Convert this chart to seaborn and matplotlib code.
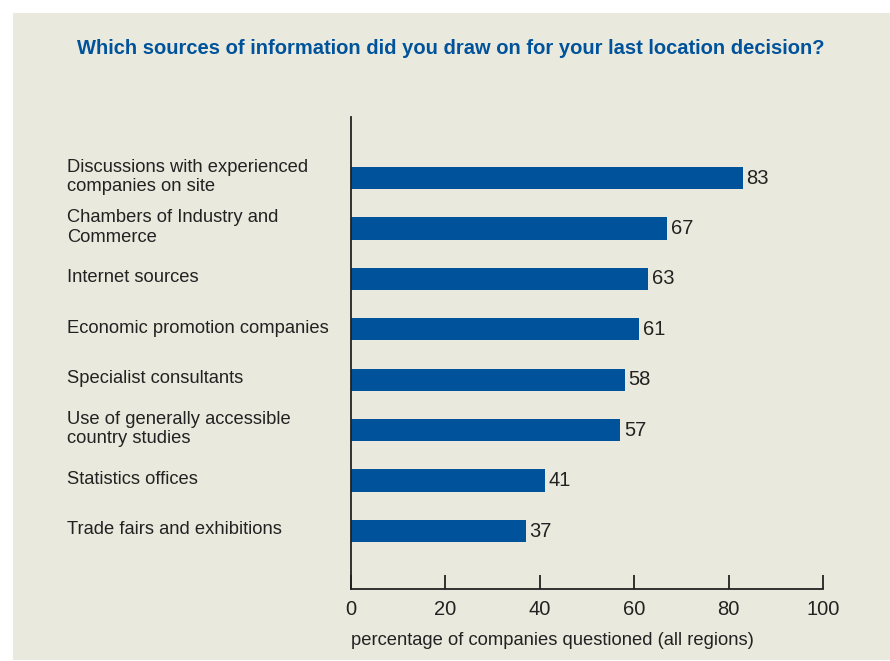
import matplotlib
matplotlib.use("Agg")
import matplotlib.pyplot as plt
import matplotlib.transforms as mtrans
from matplotlib.patches import Rectangle
import seaborn as sns
import pandas as pd

categories = [
    "Discussions with experienced\ncompanies on site",
    "Chambers of Industry and\nCommerce",
    "Internet sources",
    "Economic promotion companies",
    "Specialist consultants",
    "Use of generally accessible\ncountry studies",
    "Statistics offices",
    "Trade fairs and exhibitions",
]
values = [83, 67, 63, 61, 58, 57, 41, 37]
x_ticks = [0, 20, 40, 60, 80, 100]

title = "Which sources of information did you draw on for your last location decision?"
x_label = "percentage of companies questioned (all regions)"

BLUE = "#00529b"
PANEL = "#e9eadd"
TEXT = "#222222"

sns.set_theme(style="white")
plt.rcParams["font.family"] = ["Liberation Sans", "DejaVu Sans"]

df = pd.DataFrame({"source": categories, "share": values})

W, H = 890, 661
fig = plt.figure(figsize=(W / 100, H / 100), dpi=100, facecolor="white")

# light panel behind the whole chart
fig.patches.append(Rectangle((13 / W, 1 / H), 1 - 13 / W, 1 - 14 / H,
                             transform=fig.transFigure, facecolor=PANEL,
                             edgecolor="none", zorder=-10))

ax = fig.add_axes([351 / W, 1 - 589 / H, (823 - 351) / W, (589 - 117) / H])
ax.set_zorder(1)
ax.set_facecolor("none")

sns.barplot(data=df, x="share", y="source", orient="h", color=BLUE,
            width=0.44, saturation=1, linewidth=0, ax=ax)

ax.set_xlim(0, 100)
ax.set_ylim(len(categories) - 1 + 1.15, -1.21)
ax.set_xticks(x_ticks)
ax.set_xticklabels([str(t) for t in x_ticks], fontsize=14.5, color=TEXT)
ax.tick_params(axis="x", direction="in", length=10, width=1.3, color=TEXT,
               pad=8, bottom=True)
ax.tick_params(axis="y", length=0, pad=0)

# category labels left-aligned at a fixed figure position
ax.set_yticklabels([])
ax.set_ylabel("")
trans = mtrans.blended_transform_factory(fig.transFigure, ax.transData)
for i, c in enumerate(categories):
    ax.text(67 / W, i - 0.02, c, transform=trans, fontsize=13.2, color=TEXT,
            ha="left", va="center", linespacing=1.17, clip_on=False)

# value labels at bar ends
for i, v in enumerate(values):
    ax.text(v + 0.8, i, str(v), fontsize=14.5, color=TEXT, ha="left", va="center")

ax.set_xlabel(x_label, fontsize=13.2, color=TEXT, labelpad=9, loc="left")

for s in ["top", "right"]:
    ax.spines[s].set_visible(False)
for s in ["left", "bottom"]:
    ax.spines[s].set_color(TEXT)
    ax.spines[s].set_linewidth(1.3)

fig.text(0.5 + 6 / W, 1 - 48 / H, title, ha="center", va="center",
         fontsize=14.5, fontweight="bold", color=BLUE)

fig.savefig("out.png", dpi=100, facecolor="white")
